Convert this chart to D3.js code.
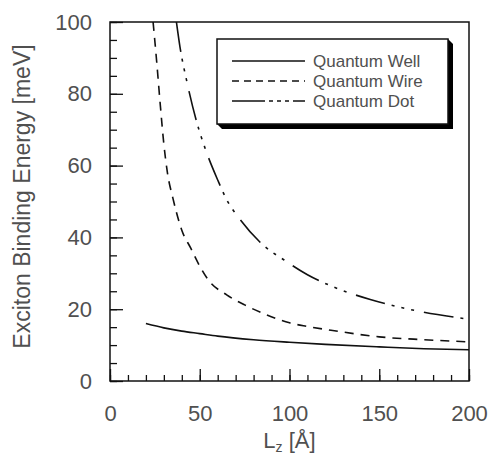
<!DOCTYPE html>
<html>
<head>
<meta charset="utf-8">
<script src="https://cdn.jsdelivr.net/npm/d3@7"></script>
<style>
  body { margin: 0; background: #fff; }
  text { font-family: "Liberation Sans", Arial, sans-serif; }
</style>
</head>
<body>
<div id="my_dataviz"></div>
<script>
// values (L_z in Angstrom, energy in meV)
var wellL   = [20, 30, 40, 50, 60, 80, 100, 120, 150, 175, 200];
var wellE   = [16, 14.8, 13.9, 13.2, 12.5, 11.5, 10.8, 10.2, 9.5, 9.0, 8.7];

var wireL   = [24, 26, 28, 30, 32, 35, 37, 40, 45, 50, 55, 65, 75, 85, 100, 110, 125, 150, 175, 200];
var wireE   = [100, 89, 77, 66, 58, 51, 47, 42, 37, 32, 28, 24, 21.2, 18.9, 16.2, 15.2, 14, 12.3, 11.5, 10.9];

var dotL    = [37, 39, 43, 48, 54, 60, 65, 72, 85, 97, 110, 124, 145, 162, 200];
var dotE    = [100, 93, 83, 72.7, 63.4, 56, 50.5, 45.3, 38, 33.7, 29.6, 26.3, 22.7, 20.5, 17.2];

var seriesNames = ["Quantum Well", "Quantum Wire", "Quantum Dot"];
var xMajor = [0, 50, 100, 150, 200];
var yMajor = [0, 20, 40, 60, 80, 100];

// set the dimensions and margins of the graph
var margin = {top: 22, right: 22, bottom: 74, left: 110},
    width = 491 - margin.left - margin.right,
    height = 455 - margin.top - margin.bottom;

var svg = d3.select("#my_dataviz")
  .append("svg")
    .attr("width", 491)
    .attr("height", 455)
  .append("g")
    .attr("transform", "translate(" + margin.left + "," + margin.top + ")");

var x = d3.scaleLinear().domain([0, 200]).range([0, width]);
var y = d3.scaleLinear().domain([0, 100]).range([height, 0]);

var ink = "#111";
var grey = "#505050";

// X axis: minor ticks every 10, major every 50, all pointing inwards
svg.append("g")
  .attr("transform", "translate(0," + height + ")")
  .call(d3.axisBottom(x).tickValues(d3.range(0, 201, 10)).tickSize(-6).tickFormat(""));
svg.append("g")
  .attr("transform", "translate(0," + height + ")")
  .call(d3.axisBottom(x).tickValues(xMajor).tickSize(-12).tickPadding(24).tickFormat(d3.format("d")))
  .selectAll("text")
    .style("font-size", "22px")
    .attr("fill", grey);

// Y axis
svg.append("g")
  .call(d3.axisLeft(y).tickValues(d3.range(0, 101, 5)).tickSize(-7).tickFormat(""));
svg.append("g")
  .call(d3.axisLeft(y).tickValues(yMajor).tickSize(-13).tickPadding(18).tickFormat(d3.format("d")))
  .selectAll("text")
    .style("font-size", "22px")
    .attr("fill", grey);

svg.selectAll(".domain").remove();
svg.selectAll(".tick line").attr("stroke", ink).attr("stroke-width", 1.3);

// frame
svg.append("rect")
  .attr("width", width)
  .attr("height", height)
  .attr("fill", "none")
  .attr("stroke", ink)
  .attr("stroke-width", 1.5);

// axis titles
var xt = svg.append("text")
  .attr("x", width / 2)
  .attr("y", height + 67)
  .attr("text-anchor", "middle")
  .attr("fill", grey)
  .style("font-size", "22px");
xt.append("tspan").text("L");
xt.append("tspan").attr("dy", 4).style("font-size", "14px").text("z");
xt.append("tspan").attr("dy", -4).text(" [Å]");

svg.append("text")
  .attr("transform", "translate(" + (-80) + "," + (height / 2 - 5) + ")rotate(-90)")
  .attr("text-anchor", "middle")
  .attr("fill", grey)
  .style("font-size", "23px")
  .text("Exciton Binding Energy [meV]");

// curves
var line = d3.line()
  .x(function(d) { return x(d[0]); })
  .y(function(d) { return y(d[1]); })
  .curve(d3.curveMonotoneX);

var dashes = [null, "9,7", "30,7,3,7,3,7,3,10"];
var curves = [d3.zip(wellL, wellE), d3.zip(wireL, wireE), d3.zip(dotL, dotE)];

svg.append("clipPath").attr("id", "clip")
  .append("rect").attr("width", width).attr("height", height);

curves.forEach(function(c, i) {
  svg.append("path")
    .datum(c)
    .attr("clip-path", "url(#clip)")
    .attr("fill", "none")
    .attr("stroke", ink)
    .attr("stroke-width", 1.6)
    .attr("stroke-dasharray", dashes[i])
    .attr("d", line);
});

// legend box with a black drop shadow
var lx0 = 107, ly0 = 17, lx1 = 338, ly1 = 102, sh = 5;
svg.append("path")
  .attr("d", "M" + lx0 + "," + ly1 + "L" + (lx0 + sh) + "," + (ly1 + sh) +
             "L" + (lx1 + sh) + "," + (ly1 + sh) + "L" + (lx1 + sh) + "," + (ly0 + sh) +
             "L" + lx1 + "," + ly0 + "Z")
  .attr("fill", "#000");
svg.append("rect")
  .attr("x", lx0).attr("y", ly0)
  .attr("width", lx1 - lx0).attr("height", ly1 - ly0)
  .attr("fill", "#fff")
  .attr("stroke", ink)
  .attr("stroke-width", 1.5);

var legendDash = [null, "7,5", "33,4,4,4,4,4,4,4"];
seriesNames.forEach(function(name, i) {
  var ly = 39 + i * 20;
  svg.append("line")
    .attr("x1", 122).attr("x2", 195)
    .attr("y1", ly).attr("y2", ly)
    .attr("stroke", ink)
    .attr("stroke-width", 1.5)
    .attr("stroke-dasharray", legendDash[i]);
  svg.append("text")
    .attr("x", 203)
    .attr("y", ly + 6)
    .attr("fill", grey)
    .style("font-size", "17px")
    .text(name);
});
</script>
</body>
</html>
